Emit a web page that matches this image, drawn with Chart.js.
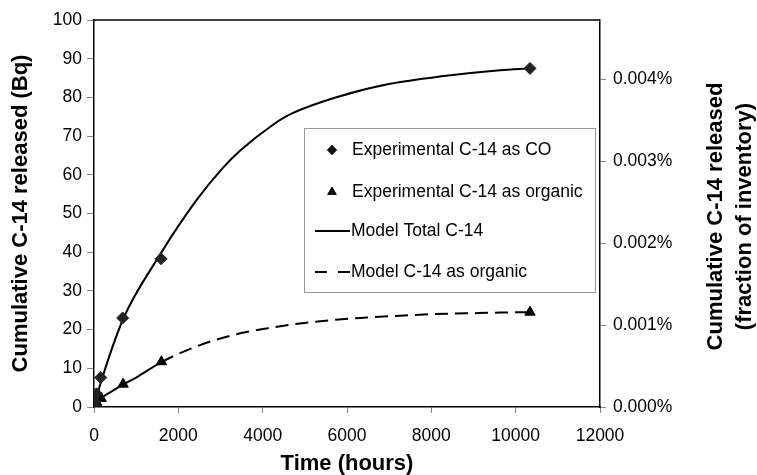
<!DOCTYPE html>
<html>
<head>
<meta charset="utf-8">
<script src="https://cdn.jsdelivr.net/npm/chart.js@4/dist/chart.umd.min.js"></script>
<style>
  html, body { margin: 0; padding: 0; background: #fff; }
  canvas { display: block; }
</style>
</head>
<body>
<canvas id="c" width="757" height="475"></canvas>
<script>
// ---- Data ----
const timesCO   = [0, 24, 60, 160, 680, 1590, 10340];
const valuesCO  = [0.6, 1.4, 3.4, 7.6, 23.0, 38.3, 87.5];

const timesOrg  = [0, 24, 60, 170, 690, 1600, 10340];
const valuesOrg = [0.1, 0.5, 1.2, 2.2, 5.9, 11.7, 24.5];

const modelTotalTimes  = [0, 150, 695, 1510, 2435, 3067, 3462, 4253, 4648, 5834, 7020, 8300, 9628, 10339];
const modelTotalValues = [0, 5.9, 22.8, 38.4, 53.5, 61.9, 66.2, 73.0, 75.6, 80.3, 83.5, 85.5, 87.0, 87.5];

const modelOrgTimes  = [0, 50, 170, 400, 690, 1000, 1600, 2514, 3304, 4094, 4885, 5675, 6466, 7256, 8046, 8837, 9628, 10339];
const modelOrgValues = [0, 0.8, 2.3, 3.9, 5.8, 7.6, 11.6, 16.0, 18.6, 20.3, 21.6, 22.5, 23.1, 23.6, 24.0, 24.2, 24.4, 24.5];

const rightTicks = [0, 0.001, 0.002, 0.003, 0.004];   // percent of inventory
const rightMax = 0.00472;                              // percent matching 100 Bq

const legendLabels = ['Experimental C-14 as CO', 'Experimental C-14 as organic', 'Model Total C-14', 'Model C-14 as organic'];
const xTitle = 'Time (hours)';
const yTitle = 'Cumulative C-14 released (Bq)';
const y2Title = ['Cumulative C-14 released', '(fraction of inventory)'];

const zip = (xs, ys) => xs.map((x, i) => ({x, y: ys[i]}));
const FONT = "'Liberation Sans', Arial, sans-serif";
const DASH = [13, 7];

const framePlugin = {
  id: 'frameLegend',
  afterDraw(chart) {
    const {ctx, chartArea: a} = chart;
    ctx.save();
    // top frame line
    ctx.strokeStyle = '#000';
    ctx.lineWidth = 1.5;
    ctx.beginPath();
    ctx.moveTo(a.left, a.top);
    ctx.lineTo(a.right, a.top);
    ctx.stroke();

    // legend box
    const bx = 304, by = 128, bw = 291, bh = 164;
    ctx.fillStyle = '#fff';
    ctx.fillRect(bx, by, bw, bh);
    ctx.strokeStyle = '#999';
    ctx.lineWidth = 1;
    ctx.strokeRect(bx + 0.5, by + 0.5, bw, bh);

    const rows = [150, 192, 231, 272];
    ctx.fillStyle = '#000';
    ctx.font = '17.5px ' + FONT;
    ctx.textBaseline = 'middle';
    ctx.textAlign = 'left';
    // markers
    Chart.helpers.drawPoint(ctx, {pointStyle: 'rectRot', radius: 5, borderWidth: 1, rotation: 0}, 332, rows[0]);
    ctx.fillStyle = '#111'; ctx.strokeStyle = '#111';
    ctx.fill();
    Chart.helpers.drawPoint(ctx, {pointStyle: 'triangle', radius: 5, borderWidth: 1, rotation: 0}, 332, rows[1]);
    ctx.fill();
    // line samples
    ctx.strokeStyle = '#000';
    ctx.lineWidth = 2;
    ctx.beginPath(); ctx.moveTo(315, rows[2]); ctx.lineTo(350, rows[2]); ctx.stroke();
    ctx.beginPath(); ctx.moveTo(315, rows[3]); ctx.lineTo(327, rows[3]);
    ctx.moveTo(338, rows[3]); ctx.lineTo(350, rows[3]); ctx.stroke();
    ctx.fillStyle = '#000';
    ctx.fillText(legendLabels[0], 352, rows[0]);
    ctx.fillText(legendLabels[1], 352, rows[1]);
    ctx.fillText(legendLabels[2], 351, rows[2]);
    ctx.fillText(legendLabels[3], 351, rows[3]);

    // right axis title (reads bottom to top)
    ctx.font = 'bold 22px ' + FONT;
    ctx.textAlign = 'center';
    ctx.textBaseline = 'middle';
    const cy = (a.top + a.bottom) / 2 + 3;
    ctx.translate(716, cy);
    ctx.rotate(-Math.PI / 2);
    ctx.fillText(y2Title[0], 0, 0);
    ctx.fillText(y2Title[1], 0, 29);
    ctx.restore();
  }
};

new Chart(document.getElementById('c'), {
  type: 'scatter',
  data: {
    datasets: [
      {
        label: legendLabels[2],
        data: zip(modelTotalTimes, modelTotalValues),
        showLine: true, borderColor: '#000', borderWidth: 2,
        pointRadius: 0, cubicInterpolationMode: 'monotone', order: 3
      },
      {
        label: legendLabels[3],
        data: zip(modelOrgTimes, modelOrgValues),
        showLine: true, borderColor: '#000', borderWidth: 2,
        pointRadius: 0, cubicInterpolationMode: 'monotone', order: 4,
        segment: { borderDash: ctx => ctx.p1.parsed.x <= 1600 ? [] : DASH }
      },
      {
        label: legendLabels[0],
        data: zip(timesCO, valuesCO),
        showLine: false, pointStyle: 'rectRot', pointRadius: 6,
        backgroundColor: '#222', borderColor: '#222', borderWidth: 1, order: 1
      },
      {
        label: legendLabels[1],
        data: zip(timesOrg, valuesOrg),
        showLine: false, pointStyle: 'triangle', pointRadius: 6,
        backgroundColor: '#000', borderColor: '#000', borderWidth: 1, order: 2
      }
    ]
  },
  options: {
    responsive: false,
    animation: false,
    devicePixelRatio: 1,
    layout: { padding: { top: 20, left: 0, right: 0, bottom: 0 } },
    plugins: { legend: { display: false }, tooltip: { enabled: false } },
    scales: {
      x: {
        type: 'linear', position: 'bottom', min: 0, max: 12000,
        ticks: { stepSize: 2000, color: '#000', font: { family: FONT, size: 17.5 }, padding: 13, callback: v => String(v), maxRotation: 0, autoSkip: false },
        grid: { drawOnChartArea: false, tickLength: 6, color: '#888' },
        border: { color: '#000', width: 1.5 },
        title: { display: true, text: xTitle, color: '#000', font: { family: FONT, size: 22, weight: 'bold', lineHeight: 1 }, padding: { top: 0, bottom: 0 } },
        afterFit: s => { s.height = 68; }
      },
      y: {
        type: 'linear', position: 'left', min: 0, max: 100,
        ticks: { stepSize: 10, color: '#000', font: { family: FONT, size: 17.5 }, padding: 5, callback: v => String(v) },
        grid: { drawOnChartArea: false, tickLength: 7, color: '#888' },
        border: { color: '#000', width: 1.5 },
        title: { display: true, text: yTitle, color: '#000', font: { family: FONT, size: 22, weight: 'bold', lineHeight: 1 }, padding: { top: 10, bottom: 0 } },
        afterFit: s => { s.width = 94; }
      },
      y2: {
        type: 'linear', position: 'right', min: 0, max: rightMax,
        afterBuildTicks: s => { s.ticks = rightTicks.map(v => ({value: v})); },
        ticks: { color: '#000', font: { family: FONT, size: 17.5 }, padding: 7, callback: v => v.toFixed(3) + '%' },
        grid: { drawOnChartArea: false, tickLength: 6, color: '#888' },
        border: { color: '#000', width: 1.5 },
        afterFit: s => { s.width = 157; }
      }
    }
  },
  plugins: [framePlugin]
});
</script>
</body>
</html>
